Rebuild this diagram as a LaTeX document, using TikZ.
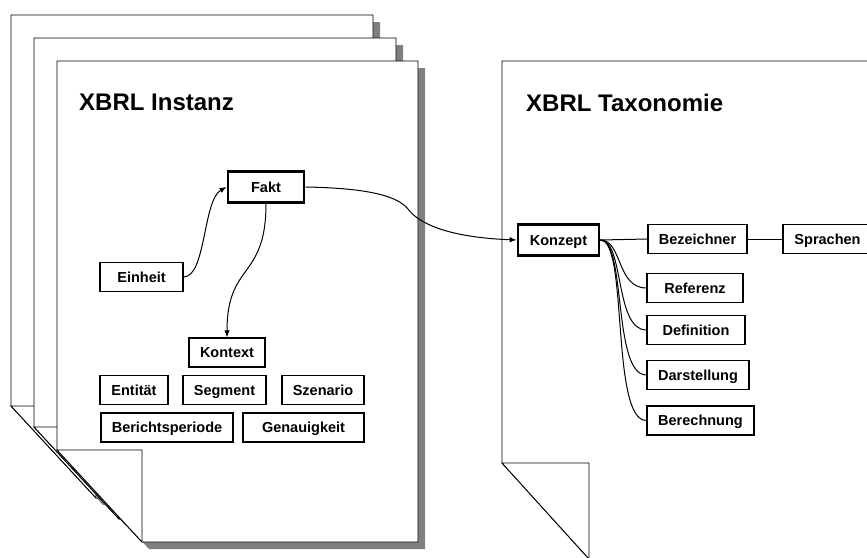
\documentclass[tikz,border=0pt]{standalone}
\usepackage{fontspec}
\setmainfont{Liberation Sans}
\usetikzlibrary{arrows.meta,calc}
\begin{document}
\begin{tikzpicture}[x=1pt,y=-1pt,
  pageline/.style={draw=black,line width=0.9pt,fill=white,line join=miter},
  pageshadow/.style={fill=black!50},
  box/.style={draw,line width=1.2pt,fill=white,font=\fontsize{14.5}{17}\selectfont\bfseries,
    minimum height=29pt,inner sep=0pt,text height=10.4pt,text depth=0pt,align=center},
  keybox/.style={box,line width=2.8pt,minimum height=31pt},
  conn/.style={line width=1pt},
  arr/.style={conn,-{Latex[length=7pt,width=5.5pt]}},
  titletext/.style={font=\fontsize{24}{28}\selectfont\bfseries,anchor=base west,inner sep=0pt}]
\useasboundingbox (0,0) rectangle (867,557);
\clip (0,0) rectangle (867,557);
% back page 1
\fill[pageshadow] (18,22) -- (380,22) -- (380,505) -- (103,505) -- (18,413) -- cycle;
\draw[pageline] (11,15) -- (373,15) -- (373,498) -- (96,498) -- (11,406) -- cycle;
\draw[pageline] (11,406) -- (96,406) -- (96,498) -- cycle;
% back page 2
\fill[pageshadow] (41,45) -- (403,45) -- (403,526) -- (126,526) -- (41,434) -- cycle;
\draw[pageline] (34,38) -- (396,38) -- (396,519) -- (119,519) -- (34,427) -- cycle;
\draw[pageline] (34,427) -- (119,427) -- (119,519) -- cycle;
% front page
\fill[pageshadow] (64,68) -- (425,68) -- (425,549) -- (149,549) -- (64,457) -- cycle;
\draw[pageline] (57,61) -- (418,61) -- (418,542) -- (142,542) -- (57,450) -- cycle;
\draw[pageline] (57,450) -- (142,450) -- (142,542) -- cycle;
% taxonomy page
\draw[pageline] (502,61) -- (900,61) -- (900,559) -- (589,559) -- (502,463) -- cycle;
\draw[pageline] (502,463) -- (589,463) -- (589,559) -- cycle;

\node[titletext] (t1) at (79,110.5) {XBRL Instanz};
\node[titletext] (t2) at (526,111.5) {XBRL Taxonomie};

% instance nodes
\node[keybox,minimum width=76pt] (fakt) at (266,187) {Fakt};
\node[box,minimum width=83pt] (einheit) at (141.5,277) {Einheit};
\node[box,minimum width=76pt] (kontext) at (227,352.5) {Kontext};
\node[box,minimum width=68pt] (entitaet) at (134,390) {Entität};
\node[box,minimum width=83pt] (segment) at (224.5,390) {Segment};
\node[box,minimum width=82pt] (szenario) at (323,390) {Szenario};
\node[box,minimum width=132pt] (bericht) at (167,427.5) {Berichtsperiode};
\node[box,minimum width=121pt] (genau) at (303.5,427.5) {Genauigkeit};

% taxonomy nodes
\node[keybox,minimum width=81pt] (konzept) at (558.5,240) {Konzept};
\node[box,minimum width=99pt] (bez) at (697.5,239) {Bezeichner};
\node[box,minimum width=89pt] (sprachen) at (827.5,239) {Sprachen};
\node[box,minimum width=96pt] (referenz) at (695,288) {Referenz};
\node[box,minimum width=98pt] (definition) at (696,330) {Definition};
\node[box,minimum width=102pt] (darst) at (698,375) {Darstellung};
\node[box,minimum width=107pt] (berech) at (700.5,420.5) {Berechnung};

% connectors
\draw[arr] (einheit.east) .. controls (206,277) and (203,200) .. (fakt.west);
\draw[arr] (fakt.south) .. controls (266,280) and (227,262) .. (kontext.north);
\draw[arr] (fakt.east) .. controls (360,188) and (396,194) .. (408,209)
   .. controls (416,220) and (440,237) .. (konzept.west);
\draw[conn] (konzept.east) -- (bez.west);
\draw[conn] (bez.east) -- (sprachen.west);
\draw[conn] (konzept.east) .. controls ($(konzept.east)+(22,0)$) and ($(referenz.west)+(-30,0)$) .. (referenz.west);
\draw[conn] (konzept.east) .. controls ($(konzept.east)+(24,0)$) and ($(definition.west)+(-32,0)$) .. (definition.west);
\draw[conn] (konzept.east) .. controls ($(konzept.east)+(26,0)$) and ($(darst.west)+(-34,0)$) .. (darst.west);
\draw[conn] (konzept.east) .. controls ($(konzept.east)+(28,0)$) and ($(berech.west)+(-36,0)$) .. (berech.west);
\end{tikzpicture}
\end{document}
